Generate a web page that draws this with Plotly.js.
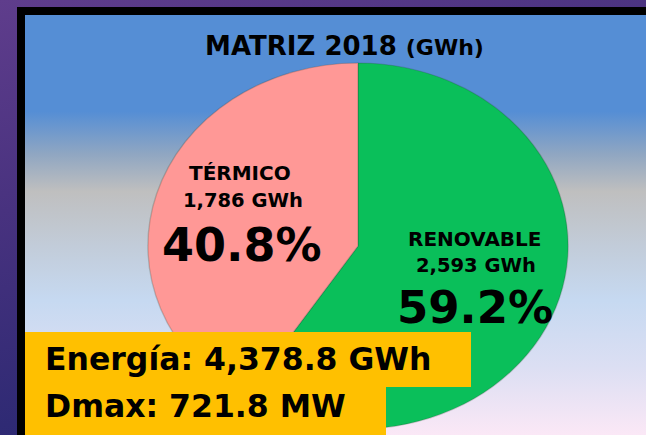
<!DOCTYPE html>
<html><head><meta charset="utf-8">
<script src="https://cdn.plot.ly/plotly-3.0.1.min.js"></script>
<style>
html,body{margin:0;padding:0;width:646px;height:435px;overflow:hidden}
body{position:relative;background:linear-gradient(165deg,#5f3d8c 0%,#48327f 35%,#2f2a74 70%,#22246a 100%)}
#frame{position:absolute;left:17px;top:7px;width:640px;height:440px;background:#000}
#panel{position:absolute;left:25px;top:15px;width:630px;height:420px;
 background:linear-gradient(180deg,#558ed5 0%,#558ed5 23%,#8fa6c2 33%,#bfbfbf 42%,#c2ccd9 55%,#c6d9f1 68%,#dcdff3 84%,#fbe8f6 100%)}
#chart{position:absolute;left:0;top:0;width:646px;height:435px}
</style></head>
<body>
<div id="frame"></div><div id="panel"></div>
<div id="chart"></div>
<script>
// ---- data ----
const categories = ['RENOVABLE', 'TÉRMICO'];
const energyGWh = [2593, 1786];
const chartTitle = 'MATRIZ 2018';
const titleUnit = '(GWh)';
const totalEnergyGWh = 4378.8;
const dmaxMW = 721.8;

// ---- helpers ----
const W = 646, H = 435;
const px = x => x / W;
const py = y => 1 - y / H;
const total = energyGWh.reduce((a, b) => a + b, 0);
const pct = energyGWh.map(v => (v / total * 100).toFixed(1) + '%');
const gwh = energyGWh.map(v => v.toLocaleString('en-US') + ' GWh');
const fmt1 = v => v.toLocaleString('en-US', {minimumFractionDigits: 1, maximumFractionDigits: 1});

const FONT = 'DejaVu Sans, Verdana, sans-serif';
const lab = (text, x, y, size, anchor) => ({
  text: text, xref: 'paper', yref: 'paper', x: px(x), y: py(y),
  xanchor: anchor || 'center', yanchor: 'middle', showarrow: false,
  font: {family: FONT, size: size, color: '#000', weight: 700}
});

const trace = {
  type: 'pie',
  labels: categories,
  values: energyGWh,
  sort: false,
  direction: 'clockwise',
  rotation: 0,
  textinfo: 'none',
  hoverinfo: 'none',
  marker: {colors: ['#0abf5a', '#ff9896'], line: {color: 'rgba(40,60,40,0.22)', width: 1.2}},
  domain: {x: [px(175), px(541)], y: [py(429), py(63)]},
  showlegend: false
};

const layout = {
  width: W, height: H,
  margin: {l: 0, r: 0, t: 0, b: 0},
  paper_bgcolor: 'rgba(0,0,0,0)',
  plot_bgcolor: 'rgba(0,0,0,0)',
  showlegend: false,
  title: {
    text: chartTitle + ' <span style="font-size:22px">' + titleUnit + '</span>',
    x: px(344.5), xanchor: 'center', xref: 'paper',
    y: py(46), yanchor: 'middle', yref: 'paper',
    font: {family: FONT, size: 26, color: '#000', weight: 700}
  },
  shapes: [
    {type: 'rect', xref: 'paper', yref: 'paper', x0: px(25), x1: px(471), y0: py(387), y1: py(332),
     fillcolor: '#ffc000', line: {width: 0}, layer: 'above'},
    {type: 'rect', xref: 'paper', yref: 'paper', x0: px(25), x1: px(386), y0: py(440), y1: py(386.5),
     fillcolor: '#ffc000', line: {width: 0}, layer: 'above'}
  ],
  annotations: [
    lab(categories[1], 240, 173, 20),
    lab(gwh[1], 243, 200, 19.5),
    lab(pct[1], 242, 245, 46),
    lab(categories[0], 475.5, 239, 20),
    lab(gwh[0], 476, 265, 19.5),
    lab(pct[0], 474.5, 307.5, 45),
    lab('Energía: ' + fmt1(totalEnergyGWh) + ' GWh', 43, 358.5, 31.5, 'left'),
    lab('Dmax: ' + fmt1(dmaxMW) + ' MW', 43, 406, 31.5, 'left')
  ]
};

Plotly.newPlot('chart', [trace], layout, {displayModeBar: false, staticPlot: true}).then(gd => {
  const cd = gd.calcdata[0][0];
  const cx = cd.cx;
  const layer = gd.querySelector('.pielayer');
  if (layer) layer.setAttribute('transform', 'translate(' + cx + ',0) scale(1.148,1) translate(' + (-cx) + ',0)');
});
</script>
</body></html>
